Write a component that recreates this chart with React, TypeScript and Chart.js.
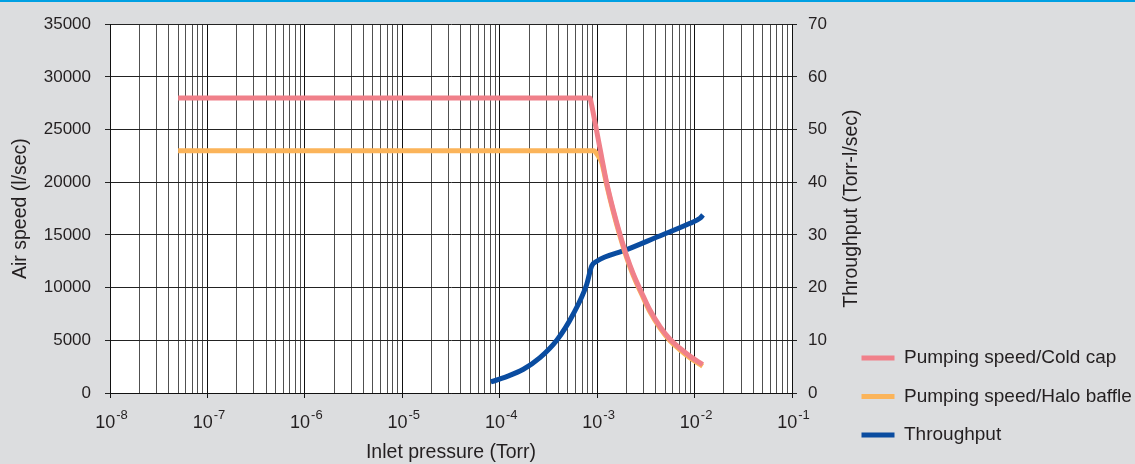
import React, { useEffect, useRef } from 'react';
import { Chart, registerables } from 'chart.js';

Chart.register(...registerables);

// ---- data (inlet pressure in Torr) ----
const coldCapPressure = [5e-8, 8.4e-4, 8.8e-4, 9.5e-4, 1.07e-3, 1.25e-3, 1.47e-3, 1.71e-3, 2.01e-3, 2.35e-3, 2.97e-3, 3.49e-3, 4.42e-3, 5.6e-3, 7.08e-3, 8.95e-3, 1.21e-2];
const coldCapSpeed = [28000, 28000, 27300, 25700, 23200, 20000, 17300, 15100, 13000, 11300, 9200, 7850, 6300, 5100, 4250, 3500, 2700];

const haloPressure = [5e-8, 9.3e-4, 9.9e-4, 1.05e-3, 1.12e-3, 1.25e-3, 1.47e-3, 1.71e-3, 2.01e-3, 2.35e-3, 2.97e-3, 3.49e-3, 4.42e-3, 5.6e-3, 7.08e-3, 8.95e-3, 1.21e-2];
const haloSpeed = [23000, 23000, 22700, 22350, 21800, 19800, 17150, 14950, 12850, 11150, 9050, 7700, 6150, 4950, 4100, 3350, 2550];

const throughputPressure = [8.1e-5, 1.18e-4, 1.75e-4, 2.59e-4, 3.85e-4, 5.69e-4, 7.81e-4, 8.79e-4, 9.9e-4, 2.01e-3, 4.25e-3, 8.98e-3, 1.14e-2, 1.22e-2];
const throughputValues = [2.1, 3.1, 4.5, 6.7, 10.0, 15.0, 20.6, 24.1, 25.0, 27.2, 29.7, 32.2, 33.2, 33.8];

const decadeExponents = [-8, -7, -6, -5, -4, -3, -2, -1];
const seriesLabels = ['Pumping speed/Cold cap', 'Pumping speed/Halo baffle', 'Throughput'];
const seriesColors = ['#f0808a', '#fbb45a', '#0a4ca0'];
const axisTitles = { x: 'Inlet pressure (Torr)', y: 'Air speed (l/sec)', y1: 'Throughput (Torr-l/sec)' };

const FONT = "'Liberation Sans', Arial, Helvetica, sans-serif";
const TEXT = '#231f20';
const BG = '#dcdddf';

function isDecade(v: number) {
  const l = Math.log10(v);
  return Math.abs(l - Math.round(l)) < 1e-6;
}

function zip(xs: number[], ys: number[]) {
  return xs.map((x, i) => ({ x, y: ys[i] }));
}

// minor + major log grid positions
const xTickValues: number[] = [];
for (let i = 0; i < decadeExponents.length - 1; i++) {
  for (let m = 1; m <= 9; m++) xTickValues.push(m * Math.pow(10, decadeExponents[i]));
}
xTickValues.push(Math.pow(10, decadeExponents[decadeExponents.length - 1]));

export default function App() {
  const ref = useRef<HTMLCanvasElement>(null);

  useEffect(() => {
    document.body.style.margin = '0';
    document.body.style.background = BG;

    const bgPlugin = {
      id: 'bgPlugin',
      beforeDraw(chart: any) {
        const { ctx, width, height, chartArea } = chart;
        ctx.save();
        ctx.fillStyle = BG;
        ctx.fillRect(0, 0, width, height);
        ctx.fillStyle = '#00a0e3';
        ctx.fillRect(0, 0, width, 2);
        ctx.fillStyle = '#ffffff';
        ctx.fillRect(chartArea.left, chartArea.top, chartArea.right - chartArea.left, chartArea.bottom - chartArea.top);
        ctx.restore();
      },
    };

    const labelPlugin = {
      id: 'labelPlugin',
      afterDraw(chart: any) {
        const ctx = chart.ctx;
        const xs = chart.scales.x;
        const ca = chart.chartArea;
        ctx.save();
        ctx.fillStyle = TEXT;
        ctx.textBaseline = 'alphabetic';
        ctx.textAlign = 'left';
        decadeExponents.forEach((e) => {
          const px = xs.getPixelForValue(Math.pow(10, e));
          const base = '10';
          const sup = String(e);
          ctx.font = `18px ${FONT}`;
          const wb = ctx.measureText(base).width;
          ctx.font = `13px ${FONT}`;
          const ws = ctx.measureText(sup).width;
          const x0 = px - (wb + ws) / 2 + 1;
          ctx.font = `18px ${FONT}`;
          ctx.fillText(base, x0, 428);
          ctx.font = `13px ${FONT}`;
          ctx.fillText(sup, x0 + wb + 1, 419);
        });
        // right axis title, reading bottom-to-top
        ctx.translate(852, (ca.top + ca.bottom) / 2);
        ctx.rotate(-Math.PI / 2);
        ctx.textAlign = 'center';
        ctx.textBaseline = 'middle';
        ctx.font = `19.5px ${FONT}`;
        ctx.fillText(axisTitles.y1, 0, 0);
        ctx.restore();
      },
    };

    const common = {
      borderWidth: 5,
      pointRadius: 0,
      cubicInterpolationMode: 'monotone',
    };

    const chart = new Chart(ref.current as HTMLCanvasElement, {
      type: 'line',
      data: {
        datasets: [
          {
            ...common,
            label: seriesLabels[0],
            data: zip(coldCapPressure, coldCapSpeed),
            borderColor: seriesColors[0],
            backgroundColor: seriesColors[0],
            yAxisID: 'y',
            order: 1,
          },
          {
            ...common,
            label: seriesLabels[1],
            data: zip(haloPressure, haloSpeed),
            borderColor: seriesColors[1],
            backgroundColor: seriesColors[1],
            yAxisID: 'y',
            order: 2,
          },
          {
            ...common,
            label: seriesLabels[2],
            data: zip(throughputPressure, throughputValues),
            borderColor: seriesColors[2],
            backgroundColor: seriesColors[2],
            yAxisID: 'y1',
            order: 3,
          },
        ] as any,
      },
      options: {
        responsive: false,
        animation: false,
        events: [],
        font: { family: FONT },
        layout: { padding: { top: 21, left: 0, right: 0, bottom: 0 } },
        plugins: {
          legend: {
            position: 'right',
            align: 'end',
            maxWidth: 293,
            labels: {
              boxWidth: 33,
              boxHeight: 5,
              padding: 19.5,
              color: TEXT,
              font: { size: 19, family: FONT },
              generateLabels: (c: any) =>
                (Chart.defaults.plugins.legend.labels.generateLabels as any)(c).map((l: any) => ({ ...l, lineWidth: 0 })),
            },
          },
          tooltip: { enabled: false },
        },
        scales: {
          x: {
            type: 'logarithmic',
            min: 1e-8,
            max: 1e-1,
            afterBuildTicks: (s: any) => {
              s.ticks = xTickValues.map((v) => ({ value: v, major: isDecade(v) }));
            },
            afterFit: (s: any) => {
              s.height = 71;
            },
            ticks: { display: false },
            grid: {
              color: (c: any) => (c.tick && isDecade(c.tick.value) ? '#111111' : '#505050'),
              tickColor: (c: any) => (c.tick && isDecade(c.tick.value) ? '#111111' : 'rgba(0,0,0,0)'),
              tickLength: 5,
              lineWidth: 1,
            },
            border: { display: true, color: '#111111' },
            title: {
              display: true,
              text: axisTitles.x,
              color: TEXT,
              font: { size: 19.5, family: FONT },
              padding: { top: 0, bottom: 0 },
            },
          },
          y: {
            position: 'left',
            min: 0,
            max: 35000,
            afterFit: (s: any) => {
              s.width = 110;
            },
            ticks: {
              stepSize: 5000,
              padding: 14,
              color: TEXT,
              font: { size: 17, family: FONT },
              callback: (v: any) => String(v),
            },
            grid: { color: '#222222', tickColor: '#222222', tickLength: 5, lineWidth: 1 },
            border: { display: true, color: '#111111' },
            title: {
              display: true,
              text: axisTitles.y,
              color: TEXT,
              font: { size: 19.5, family: FONT },
              padding: { top: 9.3, bottom: 11 },
            },
          },
          y1: {
            position: 'right',
            min: 0,
            max: 70,
            afterFit: (s: any) => {
              s.width = 50;
            },
            ticks: {
              stepSize: 10,
              padding: 11,
              color: TEXT,
              font: { size: 17, family: FONT },
              callback: (v: any) => String(v),
            },
            grid: { drawOnChartArea: false, color: '#222222', tickColor: '#222222', tickLength: 5 },
            border: { display: true, color: '#111111' },
          },
        },
      } as any,
      plugins: [bgPlugin, labelPlugin],
    });

    return () => chart.destroy();
  }, []);

  return (
    <div style={{ width: 1135, height: 464, background: BG }}>
      <canvas ref={ref} width={1135} height={464} style={{ display: 'block' }} />
    </div>
  );
}
